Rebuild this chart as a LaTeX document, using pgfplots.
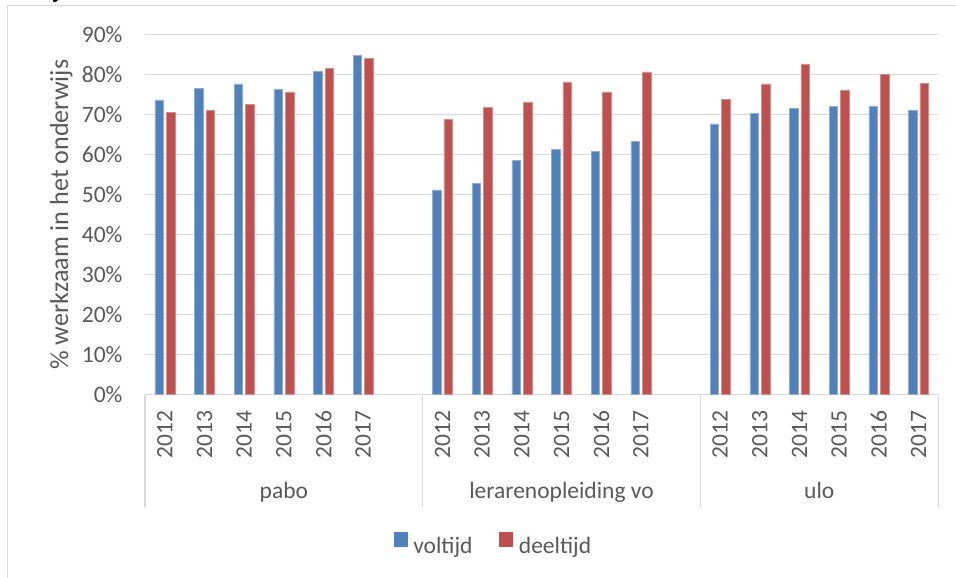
\documentclass[border=0pt]{standalone}
\usepackage{fontspec}
\setmainfont{Carlito}
\usepackage{pgfplots}
\pgfplotsset{compat=1.18}
\definecolor{voltijd}{HTML}{4F81BD}
\definecolor{deeltijd}{HTML}{C0504D}
\definecolor{txt}{HTML}{595959}
\definecolor{lijn}{HTML}{D9D9D9}
\newcommand\lbl{\fontsize{23.5}{28}\selectfont}

\begin{document}
\begin{tikzpicture}[x=1pt,y=1pt]
% chart border (partly outside the page)
\draw[lijn, line width=1.3pt] (7.3,-10) -- (7.3,572.7) -- (970,572.7);
\node[anchor=base, inner sep=0pt, font=\bfseries\lbl] at (57,579) {j};

\begin{axis}[
  at={(145pt,183.3pt)}, anchor=south west,
  scale only axis, width=793.3pt, height=360pt,
  xmin=-0.5, xmax=19.5, ymin=0, ymax=90,
  ybar, bar width=0.215,
  axis line style={draw=none},
  ymajorgrids, grid style={lijn, line width=1.2pt},
  major tick length=0pt,
  ytick={0,10,...,90},
  yticklabels={0\%,10\%,20\%,30\%,40\%,50\%,60\%,70\%,80\%,90\%},
  xtick={0,1,2,3,4,5,7,8,9,10,11,12,14,15,16,17,18,19},
  xticklabels={2012,2013,2014,2015,2016,2017,2012,2013,2014,2015,2016,2017,2012,2013,2014,2015,2016,2017},
  tick label style={font=\lbl, text=txt, inner sep=0pt},
  yticklabel style={anchor=east},
  yticklabel shift=22.3pt,
  xticklabel style={rotate=90, anchor=east},
  xticklabel shift=16pt,
  legend columns=2,
  legend style={at={(0.313,-0.4133)}, anchor=west, draw=none, fill=none,
    inner sep=0pt, font=\lbl, nodes={inner sep=0pt, text=txt},
    /tikz/every odd column/.append style={column sep=6pt},
    /tikz/every even column/.append style={column sep=26.6pt}},
]
\addplot[fill=voltijd, draw=voltijd!65!white, line width=0.5pt, bar shift=-0.145,
  legend image code/.code={\fill[voltijd] (0pt,0pt) rectangle (13.3pt,13.3pt);}]
  coordinates {(0,73.7)(1,76.5)(2,77.7)(3,76.3)(4,80.9)(5,84.8)
               (7,51.2)(8,52.9)(9,58.5)(10,61.3)(11,60.9)(12,63.3)
               (14,67.7)(15,70.4)(16,71.6)(17,72.0)(18,72.2)(19,71.2)};
\addlegendentry{voltijd}
\addplot[fill=deeltijd, draw=deeltijd!65!white, line width=0.5pt, bar shift=0.145,
  legend image code/.code={\fill[deeltijd] (0pt,0pt) rectangle (13.3pt,13.3pt);}]
  coordinates {(0,70.5)(1,71.1)(2,72.6)(3,75.7)(4,81.5)(5,84.1)
               (7,68.8)(8,71.8)(9,73.1)(10,78.2)(11,75.7)(12,80.7)
               (14,73.9)(15,77.7)(16,82.7)(17,76.2)(18,80.0)(19,77.8)};
\addlegendentry{deeltijd}
\end{axis}

% category separators
\foreach \x in {145,422.7,700.3,938.3}
  \draw[lijn, line width=1.2pt] (\x,183.3) -- (\x,71.3);
% group labels
\node[anchor=base, inner sep=0pt, font=\lbl, text=txt] at (283.85,79.7) {pabo};
\node[anchor=base, inner sep=0pt, font=\lbl, text=txt] at (561.5,79.7) {lerarenopleiding vo};
\node[anchor=base, inner sep=0pt, font=\lbl, text=txt] at (819.3,79.7) {ulo};
% axis title
\node[rotate=90, anchor=base, inner sep=0pt, font=\fontsize{26.1}{31}\selectfont, text=txt]
  at (68,363.3) {\% werkzaam in het onderwijs};

\pgfresetboundingbox
\path[use as bounding box] (0,0) rectangle (956,578);
\end{tikzpicture}
\end{document}
